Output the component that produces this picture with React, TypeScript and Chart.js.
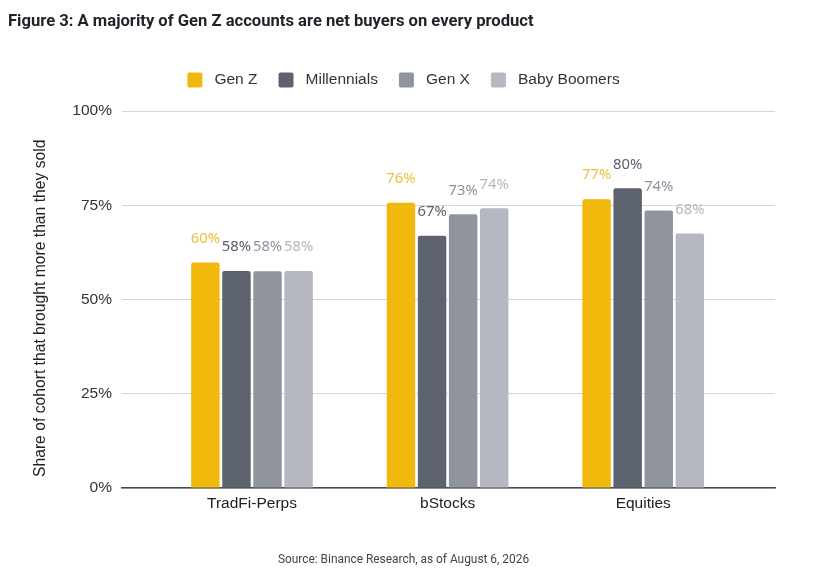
import React, { useEffect, useRef } from 'react';
import { Chart, registerables } from 'chart.js';

Chart.register(...registerables);

const categories = ['TradFi-Perps', 'bStocks', 'Equities'];
const seriesNames = ['Gen Z', 'Millennials', 'Gen X', 'Baby Boomers'];
const genZ = [59.8, 75.7, 76.6];
const millennials = [57.6, 66.9, 79.5];
const genX = [57.5, 72.6, 73.6];
const babyBoomers = [57.6, 74.2, 67.5];
const yTicks = [0, 25, 50, 75, 100];

const barColors = ['#F0B90B', '#5D636E', '#8F949D', '#B5B8C1'];
const labelColors = ['#EBC040', '#5A606B', '#8E929B', '#B4B7BF'];

const titleText = 'Figure 3: A majority of Gen Z accounts are net buyers on every product';
const yTitle = 'Share of cohort that brought more than they sold';
const sourceText = 'Source: Binance Research, as of August 6, 2026';

const valueLabelPlugin = {
  id: 'valueLabels',
  afterDatasetsDraw(chart: any) {
    const ctx = chart.ctx;
    ctx.save();
    ctx.font = '14.8px "Noto Sans"';
    ctx.textAlign = 'center';
    ctx.textBaseline = 'middle';
    chart.data.datasets.forEach((ds: any, di: number) => {
      const meta = chart.getDatasetMeta(di);
      ctx.fillStyle = labelColors[di];
      meta.data.forEach((el: any, i: number) => {
        const v = ds.data[i].y;
        ctx.fillText(Math.round(v) + '%', el.x, el.y - 24);
      });
    });
    ctx.restore();
  },
};

export default function App() {
  const ref = useRef<HTMLCanvasElement>(null);
  useEffect(() => {
    if (!ref.current) return;
    const seriesValues = [genZ, millennials, genX, babyBoomers];
    const chart = new Chart(ref.current, {
      type: 'bar',
      data: {
        datasets: seriesNames.map((name, si) => ({
          label: name,
          data: seriesValues[si].map((v, i) => ({ x: i + 1, y: v })),
          backgroundColor: barColors[si],
          borderRadius: 2,
          borderWidth: 0,
          categoryPercentage: 0.6355,
          barPercentage: 0.915,
          xAxisID: 'x',
          yAxisID: 'y',
        })),
      },
      options: {
        responsive: false,
        animation: false,
        events: [],
        layout: { padding: { left: 8, right: 22, top: 0, bottom: 0 } },
        plugins: {
          tooltip: { enabled: false },
          title: {
            display: true,
            text: titleText,
            align: 'start',
            color: '#1E2329',
            font: { family: 'Roboto', size: 16.6, weight: 'bold', lineHeight: 1.2 },
            padding: { top: 12.04, bottom: 19.35 },
          },
          legend: {
            display: true,
            position: 'top',
            align: 'center',
            labels: {
              boxWidth: 15,
              boxHeight: 15,
              padding: 21,
              color: '#333333',
              useBorderRadius: true,
              borderRadius: 2,
              font: { family: 'Liberation Sans', size: 15.5 },
              generateLabels: (c: any) =>
                Chart.defaults.plugins.legend.labels.generateLabels(c).map((it: any) => ({
                  ...it,
                  text: ' ' + it.text,
                })),
            },
          },
          subtitle: {
            display: true,
            position: 'bottom',
            text: sourceText,
            color: '#444444',
            font: { family: 'Roboto', size: 11.9 },
            padding: { top: 0, bottom: 1.5 },
          },
        },
        scales: {
          x: {
            type: 'linear',
            position: 'bottom',
            offset: false,
            min: 0.3354,
            max: 3.6738,
            afterBuildTicks: (s: any) => {
              s.ticks = categories.map((_, i) => ({ value: i + 1 }));
            },
            ticks: {
              callback: (v: any) => categories[Math.round(Number(v)) - 1] ?? '',
              color: '#222222',
              font: { family: 'Liberation Sans', size: 15.5 },
              padding: 6,
              autoSkip: false,
              maxRotation: 0,
            },
            grid: { display: false, drawTicks: false, offset: false },
            border: { display: true, color: '#4A4A4A', width: 1.5 },
            afterFit: (s: any) => {
              s.height = 65.16;
            },
          },
          xTop: {
            type: 'linear',
            axis: 'x',
            position: 'top',
            display: true,
            offset: false,
            ticks: { display: false },
            grid: { display: false, drawTicks: false },
            border: { display: false },
            afterFit: (s: any) => {
              s.height = 13.25;
            },
          },
          y: {
            type: 'linear',
            position: 'left',
            min: 0,
            max: 100,
            afterBuildTicks: (s: any) => {
              s.ticks = yTicks.map((v) => ({ value: v }));
            },
            ticks: {
              callback: (v: any) => v + '%',
              color: '#333333',
              font: { family: 'Liberation Sans', size: 15.5 },
              padding: 10,
            },
            grid: { color: '#D6D6D6', lineWidth: 1, drawTicks: false },
            border: { display: false },
            title: {
              display: true,
              text: yTitle + '    ',
              color: '#222222',
              font: { family: 'Liberation Sans', size: 15.7 },
              padding: { top: 23.3, bottom: 0 },
            },
            afterFit: (s: any) => {
              s.width = 114;
            },
          },
          yRight: {
            type: 'linear',
            axis: 'y',
            position: 'right',
            display: true,
            ticks: { display: false },
            grid: { display: false, drawTicks: false },
            border: { display: false },
            afterFit: (s: any) => {
              s.width = 24;
            },
          },
        },
      } as any,
      plugins: [valueLabelPlugin],
    });
    return () => chart.destroy();
  }, []);

  return (
    <div style={{ position: 'fixed', left: 0, top: 0, width: 821, height: 569, background: '#ffffff' }}>
      <canvas ref={ref} width={821} height={569} style={{ display: 'block', width: 821, height: 569 }} />
    </div>
  );
}
